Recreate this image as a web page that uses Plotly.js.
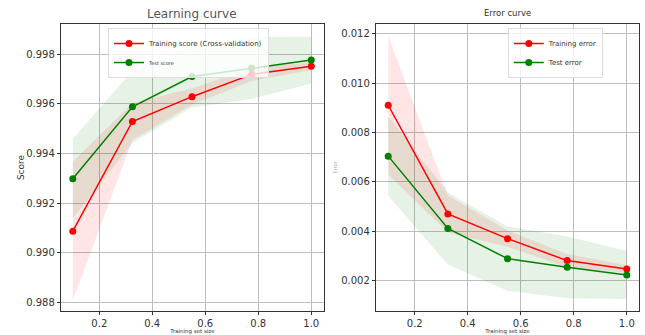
<!DOCTYPE html>
<html>
<head>
<meta charset="utf-8">
<script src="https://cdn.plot.ly/plotly-3.0.1.min.js"></script>
<style>html,body{margin:0;padding:0;background:#fff;}#chart{width:645px;height:335px;}</style>
</head>
<body>
<div id="chart"></div>
<script>
// ---- data ----
const trainSizes = [0.1, 0.325, 0.55, 0.775, 1.0];
const trainScoreMean = [0.99087, 0.99529, 0.99629, 0.99719, 0.99752];
const trainScoreStd  = [0.0028, 0.00075, 0.00033, 0.00027, 0.00015];
const testScoreMean  = [0.99298, 0.99588, 0.99710, 0.99745, 0.99777];
const testScoreStd   = [0.0016, 0.00146, 0.00125, 0.00125, 0.00095];
const trainErrMean   = [0.00910, 0.00470, 0.00370, 0.00281, 0.00247];
const trainErrStd    = [0.0028, 0.00075, 0.00033, 0.00027, 0.00015];
const testErrMean    = [0.00704, 0.00411, 0.00289, 0.00254, 0.00223];
const testErrStd     = [0.0016, 0.00146, 0.0013, 0.00125, 0.00097];
const xTicks = [0.2, 0.4, 0.6, 0.8, 1.0];
const scoreTicks = [0.988, 0.990, 0.992, 0.994, 0.996, 0.998];
const errTicks = [0.002, 0.004, 0.006, 0.008, 0.010, 0.012];

const RED = '#ff0000', GREEN = '#008000';
const RED_FILL = 'rgba(255,0,0,0.1)', GREEN_FILL = 'rgba(0,128,0,0.1)';

function band(x, m, s, fill, xa, ya) {
  const up = m.map((v, i) => v + s[i]);
  const lo = m.map((v, i) => v - s[i]);
  return {
    x: x.concat(x.slice().reverse()),
    y: up.concat(lo.slice().reverse()),
    fill: 'toself', fillcolor: fill, line: {width: 0}, mode: 'lines',
    hoverinfo: 'skip', showlegend: false, xaxis: xa, yaxis: ya
  };
}
function line(x, y, color, name, xa, ya, leg) {
  return {
    x: x, y: y, mode: 'lines+markers', name: name,
    line: {color: color, width: 1.5}, marker: {color: color, size: 7},
    xaxis: xa, yaxis: ya, legend: leg
  };
}

const traces = [
  band(trainSizes, trainScoreMean, trainScoreStd, RED_FILL, 'x', 'y'),
  band(trainSizes, testScoreMean, testScoreStd, GREEN_FILL, 'x', 'y'),
  line(trainSizes, trainScoreMean, RED, 'Training score (Cross-validation)', 'x', 'y', 'legend'),
  line(trainSizes, testScoreMean, GREEN, '<span style="font-size:5px">Test score</span>', 'x', 'y', 'legend'),
  band(trainSizes, trainErrMean, trainErrStd, RED_FILL, 'x2', 'y2'),
  band(trainSizes, testErrMean, testErrStd, GREEN_FILL, 'x2', 'y2'),
  line(trainSizes, trainErrMean, RED, 'Training error', 'x2', 'y2', 'legend2'),
  line(trainSizes, testErrMean, GREEN, 'Test error', 'x2', 'y2', 'legend2')
];

const axCommon = {
  showline: true, mirror: true, linecolor: '#333', linewidth: 1.2,
  showgrid: true, gridcolor: '#bdbdbd', gridwidth: 1,
  ticks: 'outside', ticklen: 3, tickcolor: '#333',
  tickfont: {family: 'DejaVu Sans', size: 10, color: '#333'},
  zeroline: false
};

const layout = {
  width: 645, height: 335,
  margin: {l: 61, r: 6, t: 24, b: 24},
  paper_bgcolor: '#fff', plot_bgcolor: '#fff',
  font: {family: 'DejaVu Sans', color: '#333'},
  xaxis: Object.assign({}, axCommon, {
    domain: [0, 0.455], range: [0.0555, 1.048], tickvals: xTicks, tickformat: '.1f', anchor: 'y',
    title: {text: 'Training set size', font: {size: 5.5, color: '#333'}, standoff: 5}
  }),
  yaxis: Object.assign({}, axCommon, {
    range: [0.98765, 0.99922], tickvals: scoreTicks, tickformat: '.3f', anchor: 'x',
    title: {text: 'Score', font: {size: 9, color: '#333'}, standoff: 0}
  }),
  xaxis2: Object.assign({}, axCommon, {
    domain: [0.545, 1], range: [0.054, 1.046], tickvals: xTicks, tickformat: '.1f', anchor: 'y2',
    title: {text: 'Training set size', font: {size: 5.5, color: '#333'}, standoff: 5}
  }),
  yaxis2: Object.assign({}, axCommon, {
    range: [0.00077, 0.01239], tickvals: errTicks, tickformat: '.3f', anchor: 'x2',
    title: {text: 'Error', font: {size: 5, color: '#aaa'}, standoff: 3}
  }),
  legend: {
    x: 0.0813, y: 0.986, xanchor: 'left', yanchor: 'top',
    bgcolor: 'rgba(255,255,255,0.8)', bordercolor: '#ddd', borderwidth: 1,
    font: {family: 'DejaVu Sans', size: 7, color: '#333'}, tracegroupgap: 0
  },
  legend2: {
    x: 0.773, y: 0.986, xanchor: 'left', yanchor: 'top',
    bgcolor: 'rgba(255,255,255,0.8)', bordercolor: '#ddd', borderwidth: 1,
    font: {family: 'DejaVu Sans', size: 7, color: '#333'}, tracegroupgap: 0
  },
  annotations: [
    {text: 'Learning curve', xref: 'paper', yref: 'paper', x: 0.2275, y: 1, yshift: 10,
     showarrow: false, xanchor: 'center', yanchor: 'middle',
     font: {family: 'DejaVu Sans', size: 12, color: '#555'}},
    {text: 'Error curve', xref: 'paper', yref: 'paper', x: 0.7725, y: 1, yshift: 11,
     showarrow: false, xanchor: 'center', yanchor: 'middle',
     font: {family: 'DejaVu Sans', size: 8.5, color: '#333'}}
  ],
  showlegend: true
};

Plotly.newPlot('chart', traces, layout, {displayModeBar: false, staticPlot: true});
</script>
</body>
</html>
